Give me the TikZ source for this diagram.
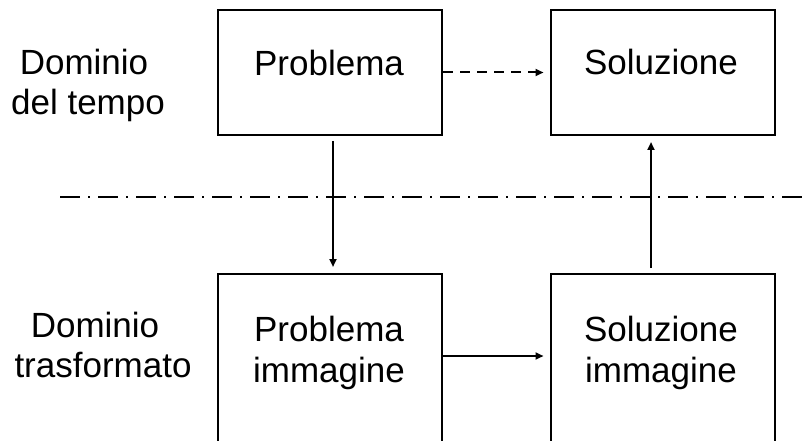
\documentclass[tikz,border=0pt]{standalone}
\usepackage{fontspec}
\setmainfont{Liberation Sans}
\usetikzlibrary{arrows.meta}
\begin{document}
\begin{tikzpicture}[x=1pt,y=-1pt,
  box/.style={draw, line width=2pt, minimum width=224pt, inner sep=0pt, line join=miter},
  txt/.style={font=\fontsize{35}{40}\selectfont, anchor=base, inner sep=0pt},
  conn/.style={line width=2pt, -{Triangle[length=8pt,width=7pt]}, shorten >=6pt}]
\useasboundingbox (0,0) rectangle (803,441);
\clip (0,0) rectangle (803,441);
% boxes
\node[box, minimum height=125pt] (p) at (330,72.5) {};
\node[box, minimum height=125pt] (s) at (662.5,72.5) {};
\node[box, minimum height=176pt] (pi) at (330,362) {};
\node[box, minimum height=176pt] (si) at (662.5,362) {};
% texts
\node[txt] (tp) at (329,76) {Problema};
\node[txt] (ts) at (661,75) {Soluzione};
\node[txt] (tpi1) at (329,341) {Problema};
\node[txt] (tpi2) at (329,382) {immagine};
\node[txt] (tsi1) at (661,341) {Soluzione};
\node[txt] (tsi2) at (661,382) {immagine};
\node[txt] (d1a) at (84,75) {Dominio};
\node[txt] (d1b) at (88,115) {del tempo};
\node[txt] (d2a) at (95,337) {Dominio};
\node[txt] (d2b) at (103,377) {trasformato};
% separator
\coordinate (l0) at (60,197);
\coordinate (l1) at (805,197);
\draw[line width=2pt, dash pattern=on 20pt off 8pt on 2pt off 8pt] (l0) -- (l1);
% connectors
\draw[conn, dash pattern=on 10pt off 7pt] (p.east) -- (s.west);
\draw[conn, shorten <=5pt] (p.south -| 333,0) -- (pi.north -| 333,0);
\draw[conn, shorten <=5pt] (si.north -| 651,0) -- (s.south -| 651,0);
\draw[conn] (pi.east |- 0,356) -- (si.west |- 0,356);
\end{tikzpicture}
\end{document}
